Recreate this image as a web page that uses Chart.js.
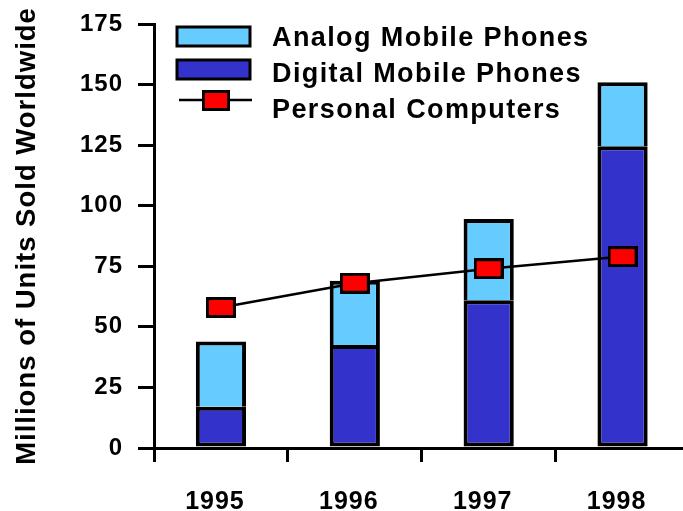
<!DOCTYPE html>
<html>
<head>
<meta charset="utf-8">
<script src="https://cdn.jsdelivr.net/npm/chart.js@4.4.0/dist/chart.umd.min.js"></script>
<style>
  html, body { margin: 0; padding: 0; background: #fff; overflow: hidden; }
  #wrap { width: 683px; height: 511px; overflow: hidden; }
</style>
</head>
<body>
<div id="wrap"><canvas id="myChart" width="704" height="511"></canvas></div>
<script>
// 데이터
const years = ['1995', '1996', '1997', '1998'];
const analogPhones = [27, 26.5, 33.5, 26.5];
const digitalPhones = [17, 42.5, 61, 124.5];
const personalComputers = [58, 68, 74, 79];
const yTicks = [0, 25, 50, 75, 100, 125, 150, 175];

const FONT = "'Liberation Sans', Arial, sans-serif";

// 빨간 사각형 마커
function makeMarker(w, h) {
	let c = document.createElement('canvas');
	c.width = w;
	c.height = h;
	let g = c.getContext('2d');
	g.fillStyle = '#000';
	g.fillRect(0, 0, w, h);
	g.fillStyle = '#ff0000';
	g.fillRect(3, 3, w - 6, h - 6);
	return c;
}
const marker = makeMarker(30, 21);

// 글자 간격
const spacingPlugin = {
	id: 'spacing',
	beforeInit(chart) { chart.ctx.letterSpacing = '1px'; },
	beforeDraw(chart) { chart.ctx.letterSpacing = '1px'; }
};

// 범례 직접 그리기
const legendPlugin = {
	id: 'myLegend',
	afterDraw(chart) {
		let ctx = chart.ctx;
		ctx.save();
		ctx.letterSpacing = '1.4px';
		ctx.lineWidth = 3;
		ctx.strokeStyle = '#000';
		// analog
		ctx.fillStyle = '#66ccff';
		ctx.fillRect(177, 27, 73, 19);
		ctx.strokeRect(177, 27, 73, 19);
		// digital
		ctx.fillStyle = '#3333cc';
		ctx.fillRect(177, 60, 73, 19);
		ctx.strokeRect(177, 60, 73, 19);
		// pc
		ctx.lineWidth = 2.5;
		ctx.beginPath();
		ctx.moveTo(179, 100);
		ctx.lineTo(252, 100);
		ctx.stroke();
		ctx.drawImage(marker, 202, 90, 28, 21);

		ctx.fillStyle = '#000';
		ctx.font = 'bold 27px ' + FONT;
		ctx.textBaseline = 'alphabetic';
		ctx.fillText('Analog Mobile Phones', 272, 46);
		ctx.fillText('Digital Mobile Phones', 272, 82);
		ctx.fillText('Personal Computers', 272, 118);
		ctx.restore();
	}
};

let ctx = document.getElementById('myChart').getContext('2d');
let myChart = new Chart(ctx, {
	data : {
		labels : years,
		datasets : [ {
			type : 'line',
			label : 'Personal Computers',
			data : personalComputers,
			borderColor : '#000',
			borderWidth : 2.5,
			pointStyle : marker,
			pointRadius : 12,
			tension : 0,
			order : 0
		}, {
			type : 'bar',
			label : 'Digital Mobile Phones',
			data : digitalPhones,
			backgroundColor : '#3333cc',
			borderColor : '#000',
			borderWidth : 4,
			borderSkipped : false,
			stack : 'phones',
			order : 1
		}, {
			type : 'bar',
			label : 'Analog Mobile Phones',
			data : analogPhones,
			backgroundColor : '#66ccff',
			borderColor : '#000',
			borderWidth : 4,
			borderSkipped : 'bottom',
			stack : 'phones',
			order : 2
		} ]
	},
	options : {
		responsive : false,
		animation : false,
		layout : { padding : { top : 24, right : 2, left : 0, bottom : 0 } },
		plugins : {
			legend : { display : false },
			tooltip : { enabled : false }
		},
		datasets : {
			bar : { barPercentage : 0.375, categoryPercentage : 1 }
		},
		scales : {
			x : {
				stacked : true,
				offset : true,
				grid : {
					offset : true,
					drawOnChartArea : false,
					color : '#000',
					lineWidth : 3,
					tickLength : 14
				},
				border : { color : '#000', width : 3 },
				ticks : {
					color : '#000',
					font : { family : FONT, size : 25, weight : 'bold' },
					padding : 25,
					labelOffset : -6,
					maxRotation : 0
				},
				afterFit(scale) {
					scale.height = 63;
					scale.paddingLeft = 0;
					scale.paddingRight = 0;
				}
			},
			y : {
				stacked : true,
				min : 0,
				max : 175,
				afterBuildTicks(scale) {
					scale.ticks = yTicks.map(v => ({ value : v }));
				},
				grid : {
					drawOnChartArea : false,
					color : '#000',
					lineWidth : 3,
					tickLength : 16
				},
				border : { color : '#000', width : 3 },
				ticks : {
					color : '#000',
					font : { family : FONT, size : 24, weight : 'bold' },
					padding : 15
				},
				title : {
					display : true,
					text : 'Millions of Units Sold Worldwide',
					color : '#000',
					font : { family : FONT, size : 27.5, weight : 'bold' },
					padding : { top : 11, bottom : 0 }
				},
				afterFit(scale) {
					scale.width = 154;
					scale.paddingTop = 0;
					scale.paddingBottom = 0;
				}
			}
		}
	},
	plugins : [ spacingPlugin, legendPlugin ]
}); // new Chart
</script>
</body>
</html>
